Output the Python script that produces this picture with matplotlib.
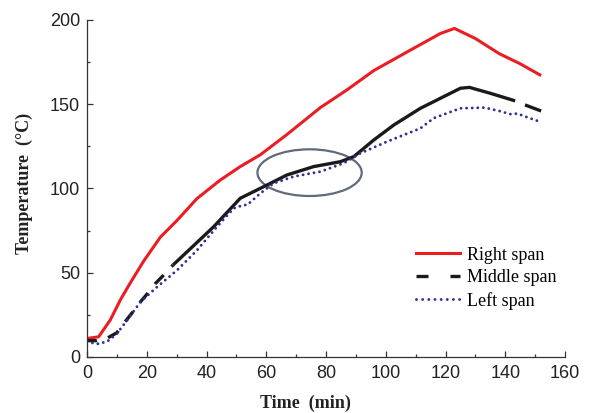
import numpy as np
import matplotlib
matplotlib.use('Agg')
import matplotlib.pyplot as plt
from matplotlib.lines import Line2D
from matplotlib.patches import Ellipse
from matplotlib.ticker import MultipleLocator

right_t = [0, 3.9, 7.8, 11.2, 14.5, 19, 24.5, 30.1, 36.8, 44.6, 51.3, 58, 66.9, 78.1, 87, 96, 107.1, 118.3, 123, 130, 138, 145, 152]
right_T = [11, 12, 22, 34, 44, 57, 71, 81, 94, 105, 113, 120, 132, 148, 158.5, 170, 181, 192, 195, 189, 180, 174, 167]

middle_t = [0, 3.3, 6.7, 10, 12.3, 15.1, 17.6, 20.4, 22.9, 26.2, 28.8, 42.4, 51.3, 60.3, 66.9, 75.9, 84.8, 89.3, 96,
            102.7, 111.6, 116, 125, 128, 135, 143.3, 146.6, 152]
middle_T = [9.7, 9.7, 11.1, 14.4, 19.9, 26.2, 32.1, 38, 43.6, 49.6, 54.6, 77.3, 94.2, 102.1, 108, 113, 115.9, 118.9, 128.8,
            137.7, 147.6, 151.5, 159.5, 160, 156.5, 152, 149.6, 146]
middle_dash_end = 28.8       # dashed before this, solid after
middle_gap = (143.3, 146.6)  # short break near the end

left_t = [0, 3.3, 6.7, 10, 13.4, 17.9, 23.4, 30.1, 36.8, 43.5, 49.1, 52.4, 53.6, 58, 62.5, 69.2, 78.1, 85.9, 91.5,
          100.4, 111.6, 116, 125, 133, 138, 142, 144, 147, 151]
left_T = [9.1, 7.7, 9.1, 13.8, 21.8, 32.7, 41.5, 51.4, 63.3, 77.3, 88.2, 90.2, 90.2, 97.1, 103.1, 107.1, 110, 115, 120.9,
          127.8, 135.7, 141.7, 147.6, 148, 146, 144, 144.5, 142.5, 140]

labels = ['Right span', 'Middle span', 'Left span']
ellipse_center = (74.5, 109.4)
ellipse_size = (34.9, 27.7)

red = '#ec1c24'
black = '#1a1a1a'
blue = '#2e3192'
grey = '#5f6b7b'

fig = plt.figure(figsize=(5.89, 4.13), dpi=100)
ax = fig.add_axes([0.1477, 0.1356, 0.8116, 0.816])

ax.plot(right_t, right_T, color=red, lw=2.2, solid_capstyle='butt', solid_joinstyle='round')

mt = np.array(middle_t)
mT = np.array(middle_T)
m1 = mt <= middle_dash_end
m2 = (mt >= middle_dash_end) & (mt <= middle_gap[0])
m3 = mt >= middle_gap[1]
ax.plot(mt[m1], mT[m1], color=black, lw=2.4, linestyle=(0.75, (3.75, 3.45)), dash_capstyle='butt')
ax.plot(mt[m2], mT[m2], color=black, lw=2.4, solid_capstyle='butt', solid_joinstyle='round')
ax.plot(mt[m3], mT[m3], color=black, lw=2.4, solid_capstyle='butt')

ax.plot(left_t, left_T, color=blue, lw=2.1, linestyle=(0, (0.01, 1.9)), dash_capstyle='round')

ax.add_patch(Ellipse(ellipse_center, ellipse_size[0], ellipse_size[1], fill=False,
                     edgecolor=grey, lw=1.6))

ax.set_xlim(0, 160)
ax.set_ylim(0, 200)
ax.xaxis.set_major_locator(MultipleLocator(20))
ax.xaxis.set_minor_locator(MultipleLocator(10))
ax.yaxis.set_major_locator(MultipleLocator(50))
ax.yaxis.set_minor_locator(MultipleLocator(25))

for s in ['top', 'right']:
    ax.spines[s].set_visible(False)
for s in ['left', 'bottom']:
    ax.spines[s].set_linewidth(0.9)
    ax.spines[s].set_color('#333333')

ax.tick_params(which='both', direction='in', color='#333333', width=0.9)
ax.tick_params(which='major', length=4)
ax.tick_params(which='minor', length=2.5)
ax.tick_params(axis='x', which='major', pad=6, labelsize=13, labelcolor='#222222')
ax.tick_params(axis='y', which='major', pad=5, labelsize=13, labelcolor='#222222')
for lab in ax.get_xticklabels() + ax.get_yticklabels():
    lab.set_family('Liberation Sans')

ax.set_xlabel('Time  (min)', family='Liberation Serif', fontweight='bold', fontsize=13, color='#222222')
ax.set_ylabel('Temperature  (\u00b0C)', family='Liberation Serif', fontweight='bold', fontsize=13, color='#222222')
ax.xaxis.set_label_coords(0.458, -0.1365)
ax.xaxis.label.set_va('center')
ax.yaxis.set_label_coords(-0.132, 0.515)
ax.yaxis.label.set_va('center')

handles = [
    Line2D([], [], color=red, lw=2.2),
    Line2D([], [], color=black, lw=2.4, linestyle=(0, (3.6, 6.6)), dash_capstyle='butt'),
    Line2D([], [], color=blue, lw=2.1, linestyle=(0, (0.01, 2.1)), dash_capstyle='round'),
]
ax.legend(handles, labels, loc='upper left', bbox_to_anchor=(0.688, 0.327), frameon=False,
          prop={'family': 'Liberation Serif', 'size': 13}, handlelength=2.43,
          handletextpad=0.39, labelspacing=0.3, borderpad=0, borderaxespad=0)

fig.savefig('out.png', dpi=100)
